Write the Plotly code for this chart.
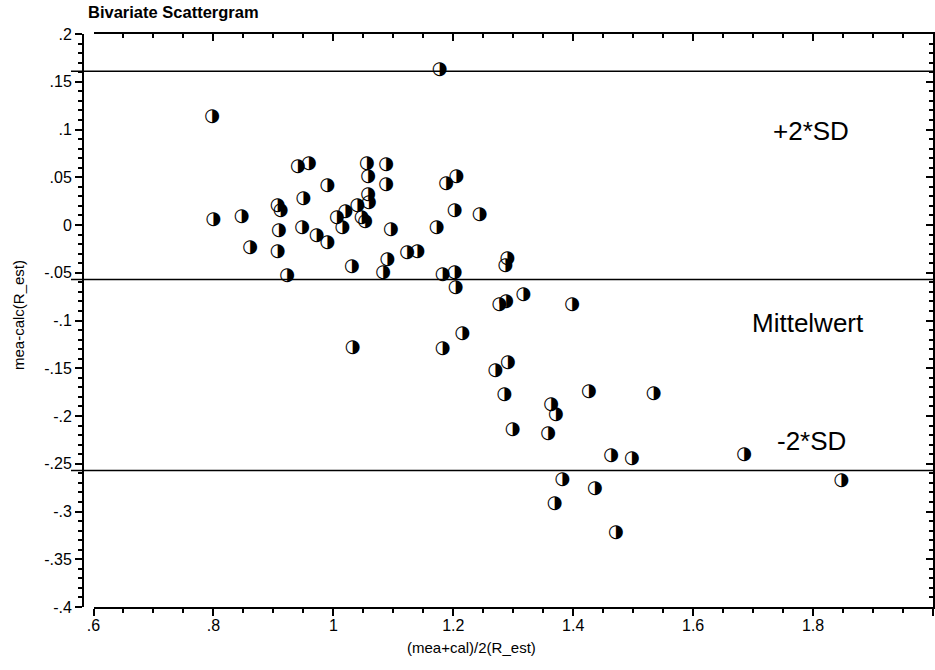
import numpy as np
import plotly.graph_objects as go

# Bland-Altman style data: mean of measured/calculated vs. difference
mean_vals = [
    0.800, 0.847, 0.861, 0.798, 0.907, 0.912, 0.909, 0.907, 0.923, 0.941,
    0.959, 0.950, 0.948, 0.972, 0.990, 0.990, 1.006, 1.020, 1.015, 1.040,
    1.047, 1.053, 1.056, 1.058, 1.058, 1.059, 1.031, 1.088, 1.088, 1.096,
    1.090, 1.083, 1.123, 1.140, 1.172, 1.202, 1.244, 1.188, 1.205, 1.177,
    1.182, 1.202, 1.204, 1.290, 1.287, 1.277, 1.288, 1.317, 1.398, 1.215,
    1.182, 1.032, 1.270, 1.291, 1.285, 1.426, 1.534, 1.363, 1.371, 1.299,
    1.358, 1.463, 1.498, 1.685, 1.382, 1.436, 1.369, 1.471, 1.847,
]
diff_vals = [
    0.006, 0.009, -0.024, 0.114, 0.020, 0.015, -0.006, -0.028, -0.053, 0.061,
    0.064, 0.028, -0.003, -0.011, 0.041, -0.018, 0.008, 0.014, -0.003, 0.020,
    0.008, 0.004, 0.064, 0.051, 0.032, 0.024, -0.043, 0.063, 0.042, -0.005,
    -0.036, -0.050, -0.029, -0.028, -0.003, 0.015, 0.011, 0.043, 0.051, 0.163,
    -0.052, -0.050, -0.065, -0.035, -0.042, -0.083, -0.080, -0.073, -0.083, -0.114,
    -0.129, -0.128, -0.152, -0.144, -0.177, -0.174, -0.176, -0.188, -0.198, -0.214,
    -0.218, -0.241, -0.245, -0.240, -0.266, -0.276, -0.292, -0.322, -0.268,
]

# Reference lines: upper limit, mean difference, lower limit
ref_values = [0.161, -0.057, -0.257]
ref_labels = ["+2*SD", "Mittelwert", "-2*SD"]
label_x = [1.797, 1.792, 1.797]
label_y = [0.098, -0.103, -0.226]

x_ticks = [0.6, 0.8, 1.0, 1.2, 1.4, 1.6, 1.8, 2.0]
x_ticktext = [".6", ".8", "1", "1.2", "1.4", "1.6", "1.8", "2"]
y_ticks = [0.2, 0.15, 0.1, 0.05, 0.0, -0.05, -0.1, -0.15, -0.2, -0.25, -0.3, -0.35, -0.4]
y_ticktext = [".2", ".15", ".1", ".05", "0", "-.05", "-.1", "-.15", "-.2", "-.25", "-.3", "-.35", "-.4"]

x_range = [0.6, 2.0]
y_range = [-0.4, 0.2]
x_minor = list(np.round(np.arange(0.6, 2.0001, 0.05), 3))
y_minor = list(np.round(np.arange(-0.4, 0.2001, 0.01), 3))

W, H = 935, 670
ML, MR, MT, MB = 83, 2, 34, 63
plot_w = W - ML - MR
plot_h = H - MT - MB
x_dom0 = 10.5 / plot_w

FONT = "Liberation Sans, Arial, sans-serif"

fig = go.Figure()

# half-filled circle symbols for each case
fig.add_trace(go.Scatter(
    x=mean_vals, y=diff_vals, mode="text",
    text=["\u25D1"] * len(mean_vals),
    textposition="middle center",
    textfont=dict(family="DejaVu Sans", size=18, color="black"),
    showlegend=False, hoverinfo="x+y",
))

# empty trace so the top/right frame axes are drawn
fig.add_trace(go.Scatter(x=[], y=[], xaxis="x2", yaxis="y2", showlegend=False))

for v in ref_values:
    fig.add_shape(type="line", xref="paper", yref="y",
                  x0=-12 / plot_w, x1=1.003, y0=v, y1=v,
                  line=dict(color="black", width=1.5))

for t, lx, ly in zip(ref_labels, label_x, label_y):
    fig.add_annotation(x=lx, y=ly, xref="x", yref="y", text=t, showarrow=False,
                       font=dict(family=FONT, size=26, color="black"))

# axis titles
fig.add_annotation(x=(471 - ML) / plot_w, y=-(647 - MT - plot_h) / plot_h,
                   xref="paper", yref="paper", text="(mea+cal)/2(R_est)",
                   xanchor="center", yanchor="middle",
                   showarrow=False, font=dict(family=FONT, size=15))
fig.add_annotation(x=(18 - ML) / plot_w, y=1 - (315 - MT) / plot_h,
                   xref="paper", yref="paper", text="mea-calc(R_est)",
                   xanchor="center", yanchor="middle",
                   textangle=-90, showarrow=False, font=dict(family=FONT, size=15))

axis_common = dict(showgrid=False, zeroline=False, showline=True,
                   linecolor="black", linewidth=2, tickcolor="black",
                   tickwidth=1.5)

fig.update_layout(
    width=W, height=H,
    margin=dict(l=ML, r=MR, t=MT, b=MB, pad=0),
    paper_bgcolor="white", plot_bgcolor="white",
    font=dict(family=FONT, size=16, color="black"),
    title=dict(text="<b>Bivariate Scattergram</b>", x=88 / W, xanchor="left",
               y=1 - 6 / H, yanchor="top",
               font=dict(family=FONT, size=16.5, color="black")),
    xaxis=dict(range=x_range, domain=[x_dom0, 1], anchor="y",
               tickmode="array", tickvals=x_ticks, ticktext=x_ticktext,
               ticks="outside", ticklen=7, ticklabelstandoff=-4,
               minor=dict(tickmode="array", tickvals=x_minor, ticks="outside",
                          ticklen=4, tickcolor="black", showgrid=False),
               **axis_common),
    yaxis=dict(range=y_range, anchor="free", position=0,
               tickmode="array", tickvals=y_ticks, ticktext=y_ticktext,
               ticks="outside", ticklen=7,
               minor=dict(tickmode="array", tickvals=y_minor, ticks="outside",
                          ticklen=4, tickcolor="black", showgrid=False),
               **axis_common),
    xaxis2=dict(range=x_range, domain=[x_dom0, 1], overlaying="x", side="top",
                anchor="y2", tickmode="array", tickvals=x_ticks,
                showticklabels=False, ticks="inside", ticklen=7,
                minor=dict(tickmode="array", tickvals=x_minor, ticks="inside",
                           ticklen=4, tickcolor="black", showgrid=False),
                **axis_common),
    yaxis2=dict(range=y_range, overlaying="y", side="right", anchor="x2",
                tickmode="array", tickvals=y_ticks,
                showticklabels=False, ticks="inside", ticklen=7,
                minor=dict(tickmode="array", tickvals=y_minor, ticks="inside",
                           ticklen=4, tickcolor="black", showgrid=False),
                **axis_common),
)

fig.write_html("out.html")
